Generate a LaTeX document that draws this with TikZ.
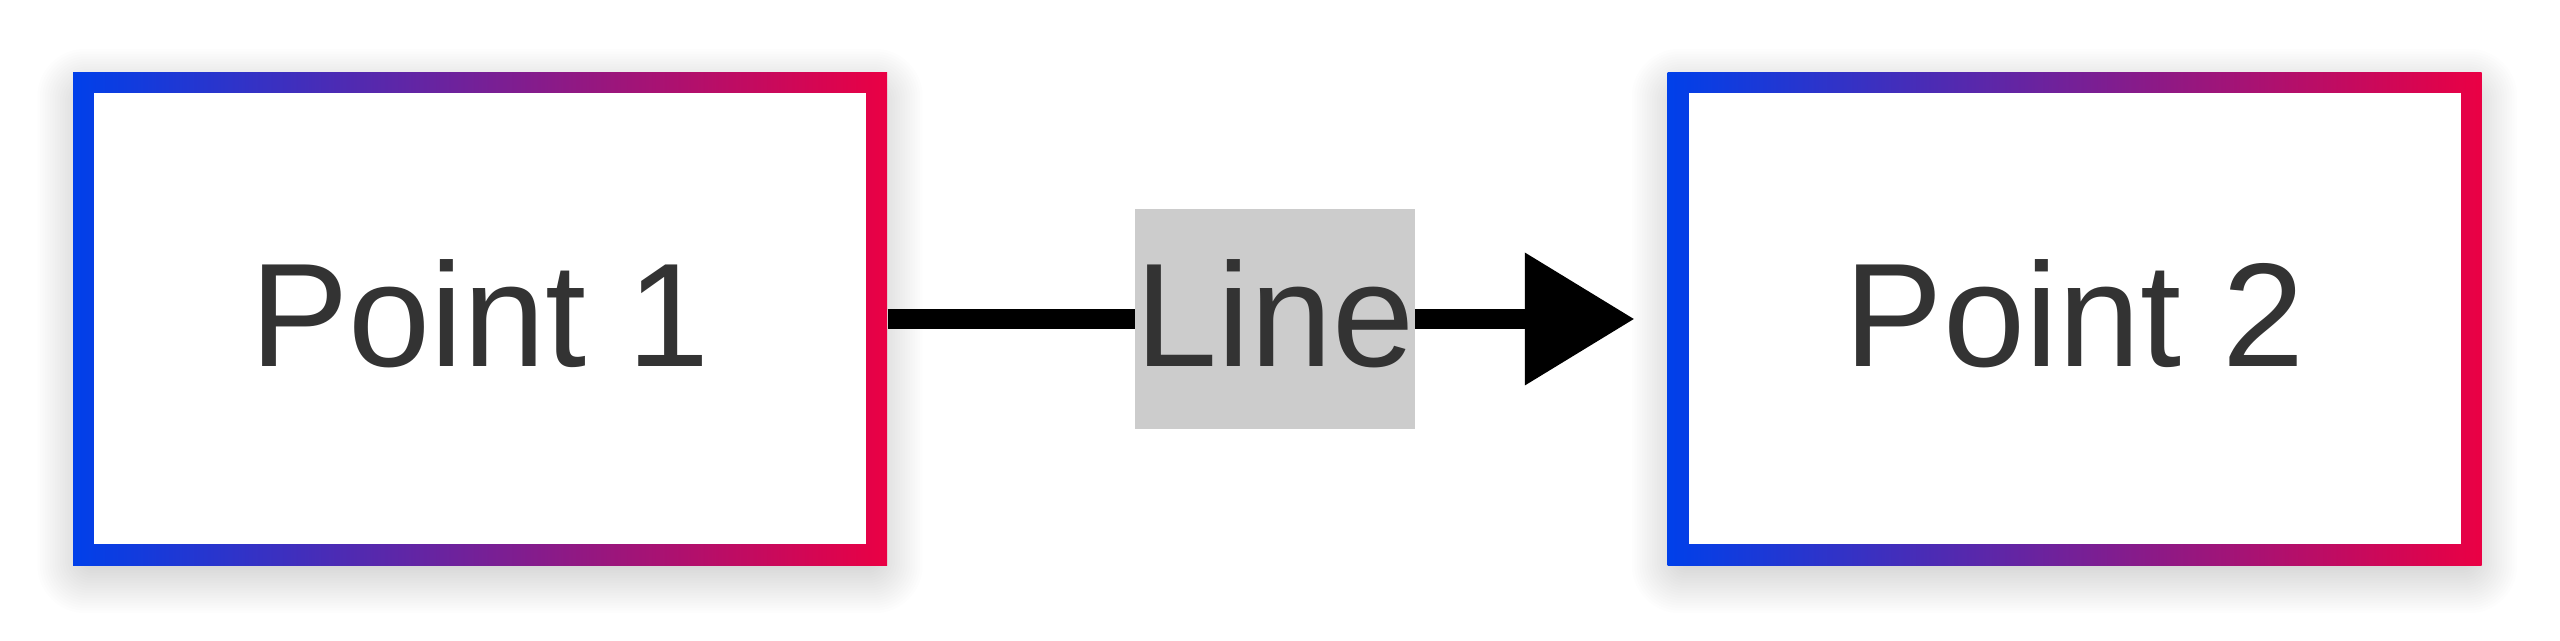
\documentclass[tikz,border=0pt]{standalone}
\usepackage{fontspec}
\setmainfont{Liberation Sans}
\usetikzlibrary{arrows.meta,backgrounds}
\definecolor{startblue}{HTML}{0040EA}
\definecolor{endred}{HTML}{EA0044}
\definecolor{darktext}{HTML}{333333}
\definecolor{labelgray}{HTML}{CCCCCC}

\begin{document}
\begin{tikzpicture}[
    bigtext/.style={text=darktext, text depth=1.2mm, font=\fontsize{42pt}{50pt}\selectfont},
    pointbox/.style={rectangle, inner sep=0pt, minimum width=81.4mm, minimum height=49.3mm,
      left color=startblue, right color=endred, bigtext,
      path picture={\fill[white] ([shift={(2.1mm,2.1mm)}]path picture bounding box.south west)
        rectangle ([shift={(-2.1mm,-2.1mm)}]path picture bounding box.north east);}},
    linelabel/.style={rectangle, inner sep=0pt, fill=labelgray, minimum width=27.2mm, minimum height=22mm, bigtext},
    connector/.style={draw=black, line width=2mm}]
  \useasboundingbox (0,0) rectangle (25.6,6.41);
  \node [pointbox] (p1) at (4.80,3.22) {Point 1};
  \node [pointbox] (p2) at (20.745,3.22) {Point 2};
  \node [linelabel] (line) at (12.75,3.22) {Line};
  \draw [connector] (p1) -- (line);
  \draw [connector, -{Triangle[length=10.9mm, width=13.3mm, line width=0pt]}, shorten >=3.3mm] (line) -- (p2);
  % soft shadows
  \begin{scope}[on background layer]
    \foreach \b in {p1,p2}
      \foreach \s in {1,...,24}
        \fill[black, opacity=0.008, rounded corners=\s*0.2mm]
          ([shift={(2.5mm-\s*0.25mm,2.5mm-\s*0.25mm-1.2mm)}]\b.south west)
          rectangle ([shift={(\s*0.25mm-2.5mm,\s*0.25mm-2.5mm-1.2mm)}]\b.north east);
  \end{scope}
\end{tikzpicture}
\end{document}
